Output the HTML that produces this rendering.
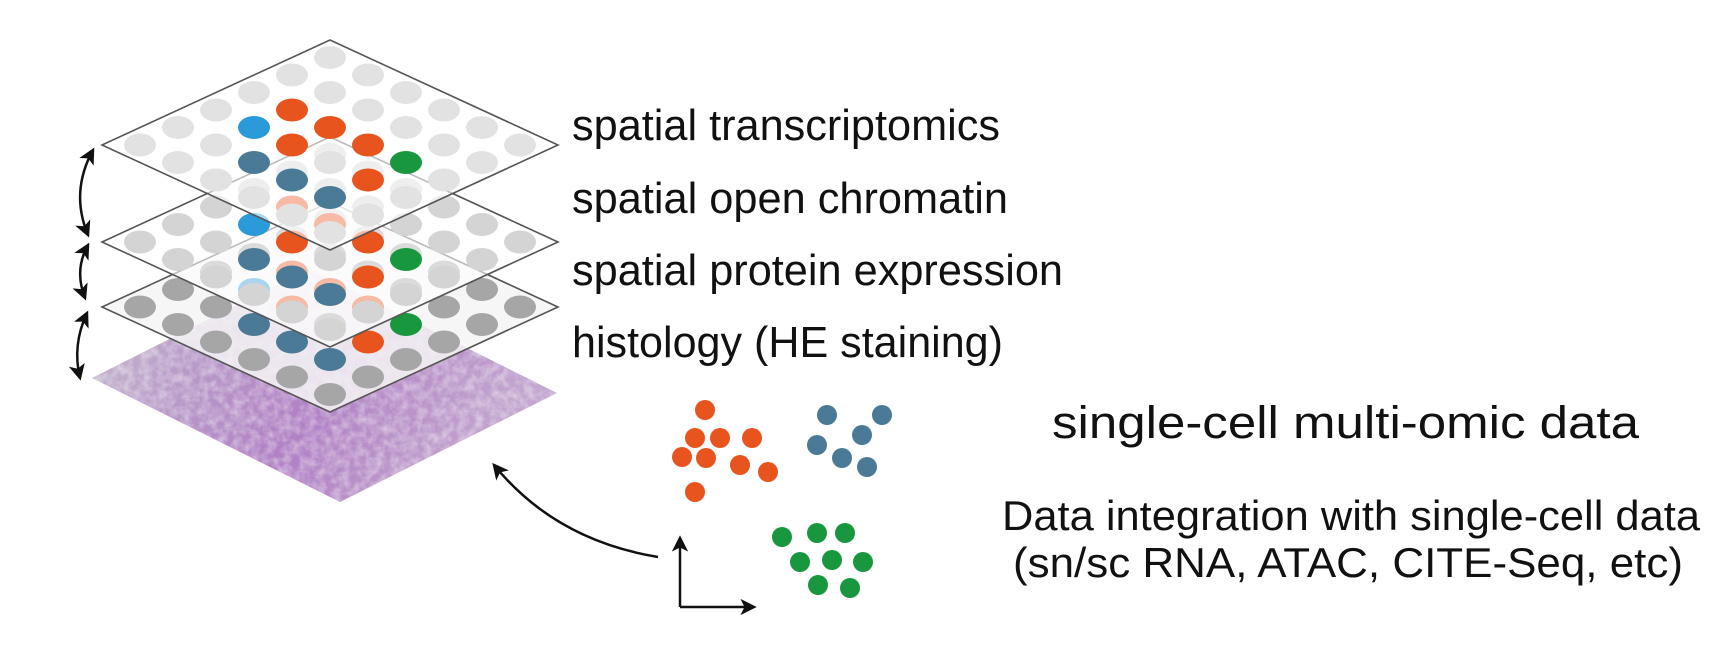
<!DOCTYPE html>
<html><head><meta charset="utf-8"><style>
html,body{margin:0;padding:0;background:#fff;}
svg{display:block}
text{font-family:"Liberation Sans",Arial,sans-serif;fill:#111;}
</style></head><body>
<svg id="s" width="1736" height="670" viewBox="0 0 1736 670" xmlns="http://www.w3.org/2000/svg">
<defs>
<marker id="ah" viewBox="0 0 12 12" refX="10" refY="6" markerWidth="6.5" markerHeight="6.5" orient="auto-start-reverse" markerUnits="strokeWidth">
<path d="M0,0 L12,6 L0,12 L3,6 z" fill="#111"/>
</marker>
<linearGradient id="hg" x1="0" y1="0" x2="1" y2="0.3">
<stop offset="0" stop-color="#cdc6d2"/><stop offset="0.3" stop-color="#b89ac8"/><stop offset="0.6" stop-color="#b080c4"/><stop offset="1" stop-color="#c2a6ce"/>
</linearGradient>
<filter id="noise" x="0" y="0" width="100%" height="100%">
<feTurbulence type="fractalNoise" baseFrequency="0.12" numOctaves="3" seed="4"/>
<feColorMatrix type="matrix" values="0 0 0 0 1  0 0 0 0 1  0 0 0 0 1  0 0 0 -1.6 1.1"/>
</filter>
<clipPath id="hc"><polygon points="92,378 309,269 557,393 340,502"/></clipPath>
</defs>
<g id="layers"></g>

<g fill="none" stroke="#111" stroke-width="2.5">
<path d="M93,150 Q70,192 88,235" marker-start="url(#ah)" marker-end="url(#ah)"/>
<path d="M88,245 Q74,270 85,298" marker-start="url(#ah)" marker-end="url(#ah)"/>
<path d="M87,313 Q72,345 80,378" marker-start="url(#ah)" marker-end="url(#ah)"/>
<path d="M658,557 Q555,540 494,465" marker-end="url(#ah)"/>
<path d="M680,607 L680,538" marker-end="url(#ah)"/>
<path d="M680,607 L754,607" marker-end="url(#ah)"/>
</g>

<g id="cells"></g>

<text x="572" y="140" font-size="44" textLength="428" lengthAdjust="spacingAndGlyphs">spatial transcriptomics</text>
<text x="572" y="213" font-size="44" textLength="436" lengthAdjust="spacingAndGlyphs">spatial open chromatin</text>
<text x="572" y="285" font-size="44" textLength="491" lengthAdjust="spacingAndGlyphs">spatial protein expression</text>
<text x="572" y="357" font-size="44" textLength="431" lengthAdjust="spacingAndGlyphs">histology (HE staining)</text>
<text x="1052" y="438" font-size="45" textLength="587" lengthAdjust="spacingAndGlyphs">single-cell multi-omic data</text>
<text x="1002" y="530" font-size="42" textLength="698" lengthAdjust="spacingAndGlyphs">Data integration with single-cell data</text>
<text x="1013" y="577" font-size="42" textLength="670" lengthAdjust="spacingAndGlyphs">(sn/sc RNA, ATAC, CITE-Seq, etc)</text>
</svg>
<script>
var NS="http://www.w3.org/2000/svg";
function el(t,a,p){var e=document.createElementNS(NS,t);for(var k in a)e.setAttribute(k,a[k]);p.appendChild(e);return e;}
var L=document.getElementById("layers");
el("polygon",{points:"92,378 309,269 557,393 340,502",fill:"url(#hg)"},L);
el("rect",{x:90,y:265,width:470,height:240,filter:"url(#noise)","clip-path":"url(#hc)",opacity:"0.5"},L);
var O="#e8541e",B="#4a7a96",LB="#2a9ad8",G="#18973e";
var col={"1,2":O,"2,2":O,"3,2":O,"2,3":O,"4,3":O,"1,3":LB,"2,4":B,"3,4":B,"4,4":B,"4,2":G};
var layers=[{ty:202,grey:"#a6a6a6",fill:"#f4f4f4",op:0.85},{ty:137,grey:"#d4d4d4",fill:"#ffffff",op:0.6},{ty:40,grey:"#e2e2e2",fill:"#ffffff",op:0.6}];
layers.forEach(function(ly){
 var tx=330,ty=ly.ty;
 var pts=[[tx,ty],[tx+228,ty+105],[tx,ty+210],[tx-228,ty+105]];
 var ps=pts.map(function(p){return p.join(",")}).join(" ");
 el("polygon",{points:ps,fill:ly.fill,"fill-opacity":ly.op},L);
 for(var i=0;i<6;i++)for(var j=0;j<6;j++){
  var x=tx+38*(i+0.5)-38*(j+0.5), y=ty+17.5*(i+j+1);
  var c=col[i+","+j]||ly.grey;
  el("ellipse",{cx:x,cy:y,rx:16,ry:11.5,fill:c},L);
 }
 el("polygon",{points:ps,fill:"none",stroke:"#555","stroke-width":"1.6"},L);
});
var C=document.getElementById("cells");
[[705,410],[695,438],[720,438],[752,438],[682,457],[706,458],[740,465],[768,472],[695,492]].forEach(function(p){el("circle",{cx:p[0],cy:p[1],r:10,fill:O},C)});
[[827,415],[882,415],[817,445],[862,435],[842,458],[867,467]].forEach(function(p){el("circle",{cx:p[0],cy:p[1],r:10,fill:B},C)});
[[782,537],[817,533],[845,533],[800,562],[832,560],[863,562],[818,585],[850,588]].forEach(function(p){el("circle",{cx:p[0],cy:p[1],r:10,fill:G},C)});
</script>
</body></html>
